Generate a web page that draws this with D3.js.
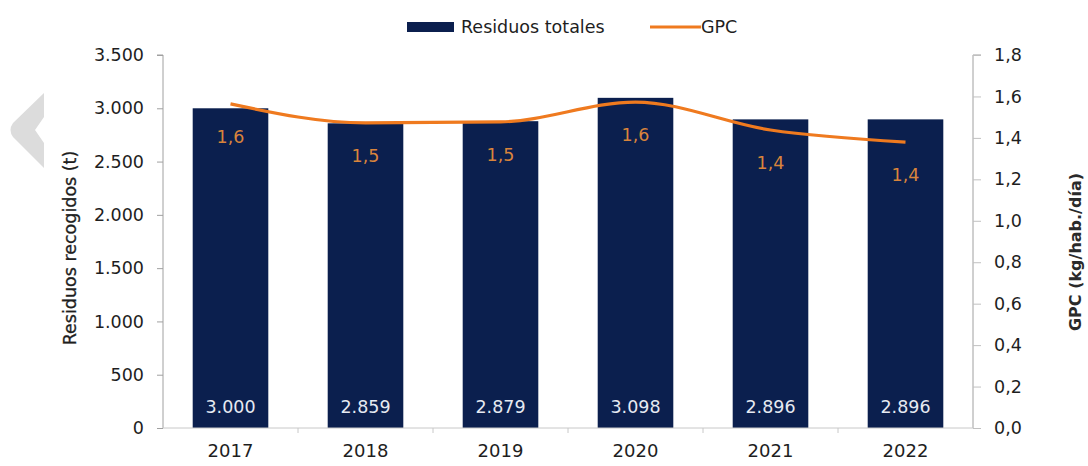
<!DOCTYPE html>
<html><head><meta charset="utf-8">
<script src="https://cdn.jsdelivr.net/npm/d3@7"></script>
<style>body{margin:0;background:#fff}svg{display:block}text{font-family:"DejaVu Sans",Verdana,sans-serif}</style>
</head><body><svg id="c" width="1088" height="466"></svg>
<script>
const years = ["2017","2018","2019","2020","2021","2022"];
const residuos = [3000, 2859, 2879, 3098, 2896, 2896];
const gpc = [1.564, 1.472, 1.477, 1.573, 1.438, 1.380];
const leftTicks = [0,500,1000,1500,2000,2500,3000,3500];
const rightTicks = [0,0.2,0.4,0.6,0.8,1.0,1.2,1.4,1.6,1.8];

const loc = d3.formatLocale({decimal:",", thousands:".", grouping:[3], currency:["",""]});
const fInt = loc.format(",.0f"), f1 = loc.format(".1f");

const svg = d3.select("#c");
const L = 163, R = 973, T = 55, B = 428;
const x = d3.scaleBand().domain(years).range([L,R]).paddingInner(0.44).paddingOuter(0.22);
const yL = d3.scaleLinear().domain([0,3500]).range([B,T]);
const yR = d3.scaleLinear().domain([0,1.8]).range([B,T]);
const navy = "#0b1f4e", orange = "#ef7a1f", axisCol = "#a0a0a0", txt = "#1e1e1e";

// chevron decoration
svg.append("path").attr("d","M44,93 L44,117 L35,130 L44,143 L44,168 L13,137 Q8,130 13,123 Z").attr("fill","#dcdcdc");

// bars
svg.append("g").selectAll("rect").data(years).join("rect")
  .attr("x", d=>x(d)).attr("width", x.bandwidth())
  .attr("y", (d,i)=>yL(residuos[i])).attr("height",(d,i)=>B-yL(residuos[i]))
  .attr("fill", navy);

// bar labels
svg.append("g").selectAll("text").data(years).join("text")
  .attr("x", d=>x(d)+x.bandwidth()/2).attr("y", 413)
  .attr("text-anchor","middle").attr("font-size",17.5).attr("fill","#e6eaf2")
  .text((d,i)=>fInt(residuos[i]));

// left axis
const gL = svg.append("g").attr("transform",`translate(${L},0)`)
  .call(d3.axisLeft(yL).tickValues(leftTicks).tickFormat(fInt).tickSize(6).tickPadding(13));
gL.select(".domain").attr("stroke",axisCol).attr("d",`M-6,${T}H0V${B}`);
gL.selectAll(".tick line").attr("stroke",axisCol);
gL.selectAll(".tick text").attr("font-size",17.5).attr("fill",txt).attr("font-family","DejaVu Sans");

// right axis
const gR = svg.append("g").attr("transform",`translate(${R},0)`)
  .call(d3.axisRight(yR).tickValues(rightTicks).tickFormat(f1).tickSize(8).tickPadding(13));
gR.select(".domain").attr("stroke",axisCol).attr("d",`M8,${T}H0V${B}`);
gR.selectAll(".tick line").attr("stroke","#c0c0c0");
gR.selectAll(".tick text").attr("font-size",17.5).attr("fill",txt).attr("font-family","DejaVu Sans");

// x axis
const gX = svg.append("g").attr("transform",`translate(0,${B})`)
  .call(d3.axisBottom(x).tickSize(0).tickPadding(16));
gX.select(".domain").attr("stroke","#c8c8c8").attr("d",`M${L},0H${R}`);
gX.selectAll(".tick text").attr("font-size",18).attr("fill",txt).attr("font-family","DejaVu Sans");
gX.append("g").selectAll("line").data(years.slice(1)).join("line")
  .attr("x1",d=>x(d)-x.step()*x.paddingInner()/2).attr("x2",d=>x(d)-x.step()*x.paddingInner()/2)
  .attr("y1",0).attr("y2",5).attr("stroke","#c8c8c8");

// GPC line
const line = d3.line().x((d,i)=>x(years[i])+x.bandwidth()/2).y(d=>yR(d)).curve(d3.curveMonotoneX);
svg.append("path").datum(gpc).attr("d",line).attr("fill","none").attr("stroke",orange).attr("stroke-width",3.2);

// GPC labels
svg.append("g").selectAll("text").data(gpc).join("text")
  .attr("x",(d,i)=>x(years[i])+x.bandwidth()/2).attr("y",d=>yR(d)+39)
  .attr("text-anchor","middle").attr("font-size",17.5).attr("fill","#d9843c")
  .text(d=>f1(d));

// axis titles
svg.append("text").attr("transform","translate(76,248) rotate(-90)").attr("text-anchor","middle")
  .attr("font-size",17.5).attr("fill",txt).attr("stroke",txt).attr("stroke-width",0.3).text("Residuos recogidos (t)");
svg.append("text").attr("transform","translate(1081,252) rotate(-90)").attr("text-anchor","middle")
  .attr("font-size",16).attr("fill","#2a2a2a").attr("font-weight","bold").text("GPC (kg/hab./día)");

// legend
svg.append("rect").attr("x",407).attr("y",22).attr("width",47).attr("height",10).attr("fill",navy);
svg.append("text").attr("x",461).attr("y",33).attr("font-size",17.5).attr("fill",txt).text("Residuos totales");
svg.append("line").attr("x1",650).attr("x2",701).attr("y1",27).attr("y2",27).attr("stroke",orange).attr("stroke-width",3);
svg.append("text").attr("x",701).attr("y",33).attr("font-size",17.5).attr("fill",txt).text("GPC");
</script></body></html>
